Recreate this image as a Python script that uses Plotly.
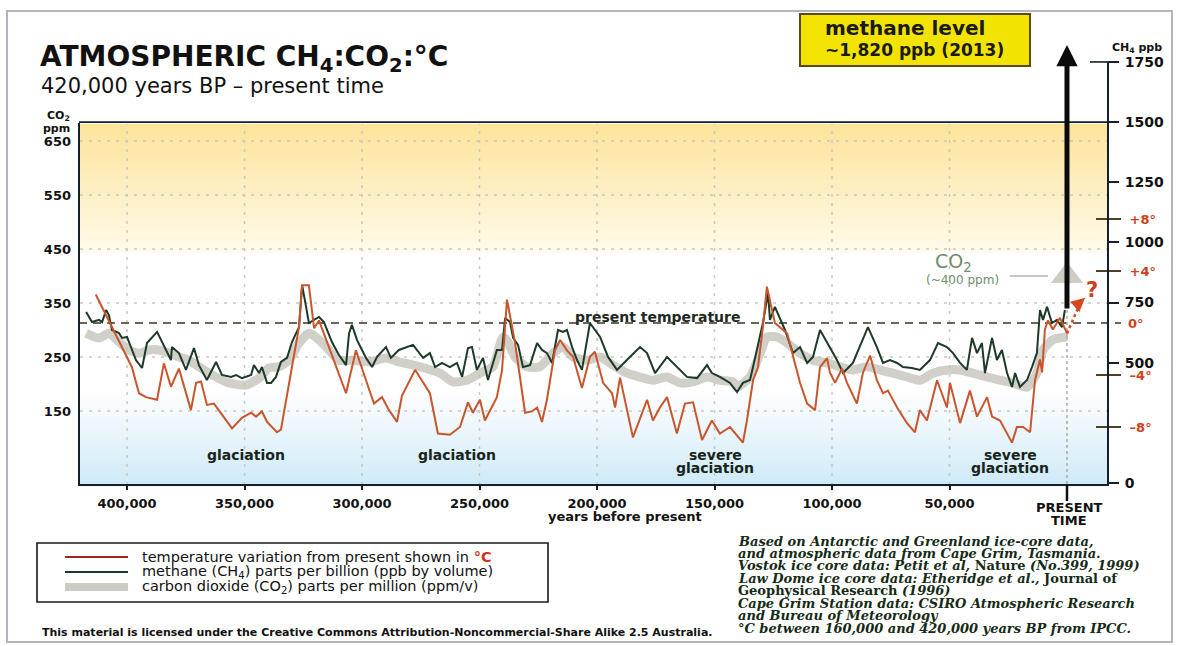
import plotly.graph_objects as go

# ---------------------------------------------------------------------------
# Ice-core records, x in thousands of years before present
# ---------------------------------------------------------------------------
years_temp = [413.3, 397.9, 394.9, 391.9, 387.2, 384.3, 381.3, 377.9, 372.8, 370.6,
              368.5, 366.0, 363.0, 360.9, 355.3, 351.1, 347.2, 345.1, 342.6, 340.4,
              336.2, 334.5, 326.8, 325.5, 322.6, 320.4, 318.3, 306.8, 302.6, 298.3,
              294.9, 291.5, 288.5, 285.1, 283.0, 277.4, 271.1, 267.7, 262.6, 258.3,
              254.9, 252.8, 249.8, 247.7, 242.6, 240.4, 238.3, 234.9, 230.6, 227.7,
              225.5, 223.4, 221.3, 217.9, 215.7, 212.8, 210.2, 206.4, 203.0, 200.9,
              197.4, 193.6, 192.3, 190.2, 184.7, 178.7, 176.2, 173.2, 170.2, 166.0,
              162.6, 159.1, 155.3, 151.1, 147.7, 143.4, 139.1, 137.9, 136.2, 133.6,
              131.5, 129.4, 127.7, 124.3, 119.1, 113.6, 110.6, 107.2, 105.1, 102.1,
              100.9, 98.7, 95.7, 93.6, 89.4, 86.8, 83.8, 80.9, 78.3, 76.2,
              72.3, 68.1, 64.7, 62.6, 59.6, 55.3, 51.1, 49.8, 45.5, 41.3,
              38.3, 34.0, 31.9, 28.5, 26.4, 23.4, 21.3, 18.7, 15.7, 13.6,
              11.5, 10.6, 9.4, 8.1, 6.0, 3.0, 0.0]
temp_c = [2.2, -3.4, -5.4, -5.7, -5.9, -3.1, -4.9, -3.5, -6.7, -4.6,
          -4.5, -6.3, -6.2, -6.7, -8.1, -7.3, -6.9, -7.2, -6.8, -7.6,
          -8.4, -8.2, -0.3, 2.9, 2.9, -0.4, 0.2, -5.4, -2.1, -4.4,
          -6.2, -5.7, -6.7, -7.6, -5.6, -3.6, -5.4, -8.5, -8.6, -8.0,
          -6.1, -6.9, -5.9, -7.5, -5.7, -3.6, 1.8, -1.5, -6.9, -6.8,
          -6.5, -7.6, -5.9, -2.1, -1.3, -2.1, -2.6, -5.0, -2.6, -2.2,
          -4.6, -5.4, -6.5, -4.2, -8.8, -5.9, -7.5, -6.5, -5.7, -8.5,
          -6.2, -6.1, -9.0, -7.5, -8.5, -8.0, -9.0, -9.2, -7.5, -4.4,
          -3.4, -0.3, 2.8, 0.0, -0.8, -4.6, -6.2, -6.7, -3.4, -2.7,
          -3.8, -4.6, -3.5, -4.6, -6.2, -3.8, -2.5, -4.4, -5.4, -5.2,
          -6.5, -7.7, -8.4, -6.7, -7.5, -4.4, -6.5, -4.6, -7.7, -5.2,
          -7.2, -5.7, -7.2, -7.5, -8.2, -9.2, -8.0, -8.0, -8.4, -4.4,
          -2.8, -3.8, -0.5, 0.2, -0.5, 0.4, -0.8]

years_ch4 = [417.4, 414.9, 411.9, 410.6, 408.9, 407.7, 406.4, 403.4, 402.1, 400.0,
             396.2, 393.6, 391.5, 387.2, 381.3, 380.9, 377.9, 374.9, 371.5, 369.4,
             366.0, 363.8, 362.1, 359.6, 355.7, 353.6, 351.1, 347.2, 346.0, 343.8,
             342.6, 340.4, 338.7, 336.6, 334.5, 331.9, 329.8, 326.8, 325.5, 323.8,
             322.6, 320.4, 318.3, 316.2, 312.8, 309.8, 306.8, 305.5, 304.3, 302.1,
             298.3, 295.7, 293.6, 289.8, 287.7, 284.3, 278.3, 274.0, 271.1, 268.9,
             266.0, 262.6, 259.6, 257.4, 254.9, 253.2, 251.1, 248.5, 246.4, 242.6,
             240.4, 239.1, 237.0, 235.7, 233.6, 231.5, 228.5, 225.5, 223.4, 221.3,
             219.1, 216.6, 214.5, 212.8, 210.6, 208.5, 206.4, 203.0, 198.7, 195.3,
             191.5, 186.0, 181.7, 178.7, 175.3, 170.2, 166.0, 161.7, 157.4, 153.2,
             151.1, 147.7, 143.4, 140.4, 137.9, 134.9, 133.6, 129.4, 127.2, 126.4,
             124.3, 120.0, 116.6, 113.6, 110.6, 108.1, 105.1, 102.1, 97.9, 95.3,
             91.1, 84.7, 80.9, 78.3, 75.3, 72.3, 69.8, 66.0, 62.6, 58.3,
             54.9, 51.1, 48.5, 45.5, 42.6, 40.4, 38.3, 36.2, 34.9, 31.9,
             29.8, 27.7, 25.5, 23.4, 22.1, 20.0, 17.0, 14.9, 12.8, 11.5,
             10.2, 8.5, 6.4, 4.3, 2.1, 0.9]
ch4_ppb = [711, 669, 678, 669, 719, 698, 636, 623, 603, 607,
           511, 478, 582, 628, 511, 565, 540, 470, 561, 490,
           428, 470, 503, 449, 441, 449, 436, 449, 490, 457,
           482, 416, 416, 441, 503, 520, 586, 648, 823, 732,
           665, 678, 690, 669, 586, 532, 490, 623, 657, 594,
           520, 482, 524, 565, 520, 553, 574, 520, 540, 482,
           499, 482, 499, 441, 561, 565, 470, 520, 428, 553,
           553, 686, 669, 603, 574, 482, 490, 582, 553, 540,
           499, 636, 628, 636, 565, 511, 470, 665, 607, 524,
           470, 524, 565, 540, 457, 524, 482, 441, 436, 490,
           457, 441, 416, 378, 416, 428, 482, 665, 790, 678,
           732, 636, 540, 565, 499, 524, 636, 582, 511, 457,
           499, 648, 565, 499, 511, 499, 482, 478, 470, 511,
           582, 565, 540, 499, 470, 603, 540, 582, 457, 603,
           511, 553, 457, 399, 457, 399, 428, 482, 540, 719,
           678, 732, 665, 678, 648, 719]

years_co2 = [417.4, 411.9, 407.7, 403.4, 399.1, 394.9, 390.6, 386.4, 382.1, 377.9,
             373.6, 369.4, 363.8, 356.6, 349.4, 343.8, 339.6, 335.3, 331.1, 326.8,
             322.6, 319.6, 315.3, 309.8, 304.3, 297.0, 289.8, 284.3, 275.3, 266.8,
             261.3, 255.3, 249.8, 244.3, 240.0, 237.9, 234.9, 229.8, 224.3, 218.7,
             214.5, 210.2, 204.3, 198.7, 193.2, 187.2, 181.7, 176.2, 170.2, 164.7,
             159.1, 153.2, 147.7, 142.1, 140.4, 134.9, 130.6, 127.7, 123.4, 119.1,
             113.6, 108.1, 102.1, 96.6, 91.1, 85.1, 79.6, 74.0, 68.1, 62.6,
             57.0, 51.1, 45.5, 40.0, 34.0, 28.5, 23.0, 17.0, 12.8, 10.2,
             6.0, 0.0]
co2_ppm = [294, 285, 294, 278, 263, 257, 263, 263, 257, 250,
           244, 232, 217, 202, 198, 211, 230, 232, 244, 276,
           294, 287, 269, 244, 244, 241, 248, 241, 232, 220,
           204, 207, 220, 232, 287, 278, 250, 232, 232, 257,
           269, 250, 244, 250, 235, 220, 213, 207, 213, 202,
           204, 213, 207, 204, 194, 213, 257, 287, 287, 276,
           257, 244, 239, 232, 226, 232, 226, 220, 213, 207,
           220, 226, 226, 220, 213, 207, 202, 194, 220, 263,
           282, 287]

ch4_2013 = 1820   # ppb
co2_now = 400     # ppm

x_tick_years = [400, 350, 300, 250, 200, 150, 100, 50]
x_tick_text = ["400,000", "350,000", "300,000", "250,000",
               "200,000", "150,000", "100,000", "50,000"]
co2_ticks = [150, 250, 350, 450, 550, 650]
ch4_ticks = [0, 500, 750, 1000, 1250, 1500, 1750]
temp_ticks = [-8, -4, 4, 8]
temp_tick_text = ["–8°", "–4°", "+4°", "+8°"]

legend_items = [
    "temperature variation from present shown in <span style='color:#c8361e'><b>°C</b></span>",
    "methane (CH<sub>4</sub>) parts per billion (ppb by volume)",
    "carbon dioxide (CO<sub>2</sub>) parts per million (ppm/v)",
]
credit_lines = [
    "<i>Based on Antarctic and Greenland ice-core data,</i>",
    "<i>and atmospheric data from Cape Grim, Tasmania.</i>",
    "<i>Vostok ice core data: Petit et al,</i> Nature <i>(No.399, 1999)</i>",
    "<i>Law Dome ice core data: Etheridge et al.,</i> Journal of",
    "Geophysical Research <i>(1996)</i>",
    "<i>Cape Grim Station data: CSIRO Atmospheric Research</i>",
    "<i>and Bureau of Meteorology</i>",
    "<i>°C between 160,000 and 420,000 years BP from IPCC.</i>",
]

# ---------------------------------------------------------------------------
# page geometry helpers (paper coordinates = whole page, margins are zero)
# ---------------------------------------------------------------------------
W, H = 1178, 646
def fx(p):
    return p / W
def fy(p):
    return 1 - p / H

TEMP_C = "#c9552c"
CH4_C = "#1d3a29"
CO2_C = "rgba(192,192,182,0.75)"
INK = "#15202a"
RED_TXT = "#cc4220"
GRID = "#c8c8c2"

fig = go.Figure()

fig.add_trace(go.Scatter(x=years_co2, y=co2_ppm, yaxis="y", mode="lines",
                         line=dict(color=CO2_C, width=9, shape="spline", smoothing=0.6),
                         hoverinfo="skip"))
fig.add_trace(go.Scatter(x=years_ch4, y=ch4_ppb, yaxis="y2", mode="lines",
                         line=dict(color=CH4_C, width=2)))
fig.add_trace(go.Scatter(x=years_temp, y=temp_c, yaxis="y3", mode="lines",
                         line=dict(color=TEMP_C, width=2)))

# present-day CO2 pointer: dotted stem + triangular head
fig.add_trace(go.Scatter(x=[years_co2[-1], years_co2[-1]], y=[co2_ppm[-1], co2_now],
                         yaxis="y", mode="lines",
                         line=dict(color="#b0b0a8", width=1.5, dash="dot"), hoverinfo="skip"))
fig.add_trace(go.Scatter(x=[years_co2[-1]], y=[co2_now], yaxis="y", mode="markers",
                         marker=dict(symbol="triangle-up", size=28,
                                     color="rgba(200,200,192,0.9)"),
                         hoverinfo="skip", cliponaxis=False))
# dotted continuation of the temperature curve
fig.add_trace(go.Scatter(x=[years_temp[-1], -5.5], y=[temp_c[-1], 1.5], yaxis="y3",
                         mode="lines", line=dict(color="#d4481e", width=2.5, dash="dot"),
                         hoverinfo="skip", cliponaxis=False))

shapes = []

# background wash: warm yellow at the top, white middle, pale blue at the bottom
def band(y0, y1, color):
    shapes.append(dict(type="rect", xref="paper", yref="paper",
                       x0=fx(79), x1=fx(1108), y0=fy(y0), y1=fy(y1),
                       fillcolor=color, line=dict(width=0), layer="below"))

def mix(c0, c1, t):
    t = max(0.0, min(1.0, t))
    return "rgb(%d,%d,%d)" % tuple(round(a + (b - a) * t) for a, b in zip(c0, c1))

warm, fade = (253, 228, 155), (255, 250, 234)
for y in range(124, 252, 2):
    band(y, y + 2.3, mix(warm, fade, (y - 124) / 128))
sky = (206, 233, 247)
for y in range(386, 485, 2):
    band(y, y + 2.3, mix((255, 255, 255), sky, ((y - 386) / 99) ** 1.1))

# dotted guides at the x ticks and CO2 ticks
for yr in x_tick_years:
    shapes.append(dict(type="line", xref="x", yref="paper", x0=yr, x1=yr,
                       y0=fy(485), y1=fy(124), layer="between",
                       line=dict(color=GRID, width=1.5, dash="3px,6px")))
for v in co2_ticks:
    shapes.append(dict(type="line", xref="paper", yref="y", x0=fx(80), x1=fx(1107),
                       y0=v, y1=v, layer="between",
                       line=dict(color=GRID, width=1.5, dash="3px,6px")))

# present-temperature reference
shapes.append(dict(type="line", xref="paper", yref="y3", x0=fx(79), x1=fx(1121),
                   y0=0, y1=0, layer="between",
                   line=dict(color="#3a3424", width=1.6, dash="8px,6px")))
# present-time guide
shapes.append(dict(type="line", xref="x", yref="y", x0=0, x1=0,
                   y0=co2_ppm[-1], y1=13, layer="between",
                   line=dict(color="#aaaaa4", width=1.5, dash="dot")))

# frame of the plot
frame = dict(color=INK, width=2)
shapes += [
    dict(type="line", xref="paper", yref="paper", x0=fx(79), x1=fx(79),
         y0=fy(123), y1=fy(486), line=frame),
    dict(type="line", xref="paper", yref="paper", x0=fx(78), x1=fx(1109),
         y0=fy(485), y1=fy(485), line=frame),
    dict(type="line", xref="paper", yref="y2", x0=fx(79), x1=fx(1114),
         y0=1500, y1=1500, line=dict(color=INK, width=1.6)),
    dict(type="line", xref="paper", yref="y2", x0=fx(1108), x1=fx(1108),
         y0=-8.3, y1=1750, line=frame),
    dict(type="line", xref="paper", yref="y2", x0=fx(1090), x1=fx(1118),
         y0=1750, y1=1750, line=dict(color=INK, width=1.6)),
    # present-time tick below the axis
    dict(type="line", xref="x", yref="paper", x0=0, x1=0,
         y0=fy(485), y1=fy(501), line=dict(color="#111", width=2.5)),
]

# methane call-out box
shapes.append(dict(type="rect", xref="paper", yref="paper",
                   x0=fx(800), x1=fx(1030), y0=fy(14), y1=fy(66),
                   fillcolor="#f2e400", line=dict(color="#5c4814", width=2)))
shapes.append(dict(type="line", xref="paper", yref="y2", x0=fx(1004), x1=fx(1062),
                   y0=ch4_2013, y1=ch4_2013, line=dict(color="#222", width=1.5)))
# CO2 call-out leader
shapes.append(dict(type="line", xref="paper", yref="y", x0=fx(1010), x1=fx(1048),
                   y0=co2_now, y1=co2_now, line=dict(color="#7c967c", width=1.2)))

# legend box with sample strokes
shapes.append(dict(type="rect", xref="paper", yref="paper",
                   x0=fx(37), x1=fx(548), y0=fy(543), y1=fy(602),
                   fillcolor="white", line=dict(color="#1a1a1a", width=1.6)))
for yy, col, wd in [(557, "#a0251a", 2.2), (572, CH4_C, 2.2), (587, "#cbcbc2", 8)]:
    shapes.append(dict(type="line", xref="paper", yref="paper",
                       x0=fx(65), x1=fx(128), y0=fy(yy), y1=fy(yy),
                       line=dict(color=col, width=wd)))

# page border
shapes.append(dict(type="rect", xref="paper", yref="paper",
                   x0=fx(7), x1=fx(1172), y0=fy(11), y1=fy(642),
                   line=dict(color="#b4b4be", width=2), fillcolor="rgba(0,0,0,0)",
                   layer="below"))

annotations = []

def note(text, x, y, size=13, color="#17241c", bold=True, xanchor="center",
         yanchor="middle", family="DejaVu Sans", yref="paper", italic=False):
    annotations.append(dict(
        text=text, x=fx(x), y=fy(y) if yref == "paper" else y, xref="paper", yref=yref,
        showarrow=False, xanchor=xanchor, yanchor=yanchor,
        font=dict(family=family, size=size, color=color,
                  weight="bold" if bold else "normal",
                  style="italic" if italic else "normal")))

# titles
note("ATMOSPHERIC CH<sub>4</sub>:CO<sub>2</sub>:°C", 38, 59, size=28, color="#111",
     xanchor="left")
note("420,000 years BP – present time", 39, 86, size=21, color="#111", bold=False,
     xanchor="left")

# axis captions
note("CO<sub>2</sub>", 72, 116, size=11, color="#111", xanchor="right")
note("ppm", 72, 129, size=11, color="#111", xanchor="right")
note("CH<sub>4</sub> ppb", 1137, 48, size=11, color="#111")
note("years before present", 625, 516, size=13, color="#111")
note("PRESENT", 1069, 507, size=13, color="#111")
note("TIME", 1069, 520, size=13, color="#111")
note("0°", 1126, 0, size=13, color=RED_TXT, xanchor="left", yref="y3")

# in-plot labels
note("present temperature", 657, 317, size=14, color="#1c2a22")
note("glaciation", 246, 455, size=14)
note("glaciation", 457, 455, size=14)
note("severe", 715, 455, size=14)
note("glaciation", 715, 468, size=14)
note("severe", 1010, 455, size=14)
note("glaciation", 1010, 468, size=14)
note("CO<sub>2</sub>", 953, 262, size=19, color="#6e8e6e", bold=False)
note("(~400 ppm)", 962, 280, size=12, color="#6e8e6e", bold=False)
note("?", 1092, 290, size=21, color=RED_TXT)

# methane call-out text
note("methane level", 823, 28, size=20, color="#1a1a1a", xanchor="left")
note("~1,820 ppb (2013)", 823, 50, size=17, color="#1a1a1a", xanchor="left")

# legend text
for i, txt in enumerate(legend_items):
    note(txt, 140, 557 + 15 * i, size=14.5, color="#111", bold=False, xanchor="left")

note("This material is licensed under the Creative Commons Attribution-Noncommercial-"
     "Share Alike 2.5 Australia.", 40, 632, size=11, color="#111", xanchor="left")

for i, txt in enumerate(credit_lines):
    note(txt, 736, 541 + 12.45 * i, size=13, color="#142a14", xanchor="left",
         family="DejaVu Serif")

# methane arrow rising to the 2013 level
annotations.append(dict(x=0, y=ch4_2013, xref="x", yref="y2",
                        ax=0, ay=ch4_ppb[-1], axref="x", ayref="y2",
                        text="", showarrow=True, arrowhead=2, arrowsize=0.85,
                        arrowwidth=5, arrowcolor="#0b0b0b"))
# head of the dotted temperature pointer
annotations.append(dict(x=-7.7, y=1.95, xref="x", yref="y3", ax=-9, ay=8,
                        text="", showarrow=True, arrowhead=2, arrowsize=1.1,
                        arrowwidth=2.5, arrowcolor="#d4481e"))

tick_font = dict(family="DejaVu Sans", size=13, color="#111", weight="bold")

fig.update_layout(
    width=W, height=H, margin=dict(l=0, r=0, t=0, b=0),
    paper_bgcolor="white", plot_bgcolor="rgba(0,0,0,0)", showlegend=False,
    xaxis=dict(domain=[fx(79), fx(1108)], range=[420.43, -17.45],
               tickvals=x_tick_years, ticktext=x_tick_text, ticks="outside",
               ticklen=4, tickwidth=1.5, tickcolor=INK, showgrid=False,
               zeroline=False, showline=False, tickfont=tick_font,
               ticklabelstandoff=2, automargin=False, fixedrange=True),
    yaxis=dict(domain=[fy(485), fy(52)], range=[13.0, 814.8], tickvals=co2_ticks,
               ticks="", showgrid=False, zeroline=False, showline=False,
               tickfont=tick_font, ticklabelstandoff=7, automargin=False,
               fixedrange=True),
    yaxis2=dict(overlaying="y", side="right", anchor="x", range=[-8.3, 1791.4],
                tickvals=ch4_ticks, ticks="outside", ticklen=10, tickwidth=2,
                tickcolor=INK, showgrid=False, zeroline=False, showline=False,
                tickfont=dict(family="DejaVu Sans", size=14, color="#111",
                              weight="bold"),
                ticklabelstandoff=3, automargin=False, fixedrange=True),
    yaxis3=dict(overlaying="y", side="right", anchor="free", position=fx(1095),
                range=[-12.46, 20.85], tickvals=temp_ticks, ticktext=temp_tick_text,
                ticks="outside", ticklen=25, tickwidth=2, tickcolor="#4e4128",
                showgrid=False, zeroline=False, showline=False,
                tickfont=dict(family="DejaVu Sans", size=13, color=RED_TXT,
                              weight="bold"),
                ticklabelstandoff=6, automargin=False, fixedrange=True),
    shapes=shapes, annotations=annotations,
)

fig.write_html("out.html", config={"displayModeBar": False})
